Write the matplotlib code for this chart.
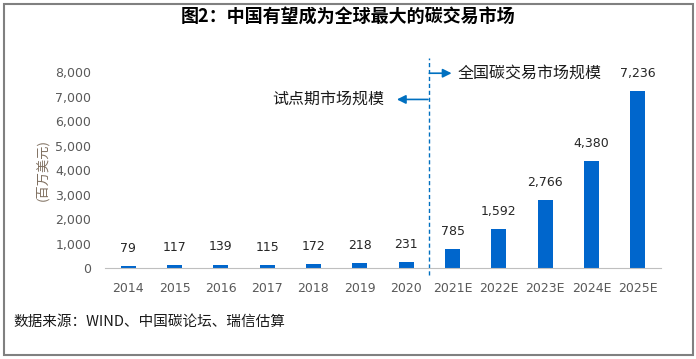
import matplotlib
matplotlib.use("Agg")
import matplotlib.pyplot as plt
from matplotlib.patches import Rectangle

plt.rcParams['font.family'] = ['Noto Sans CJK SC', 'DejaVu Sans']

# data
years = ['2014', '2015', '2016', '2017', '2018', '2019', '2020',
         '2021E', '2022E', '2023E', '2024E', '2025E']
market_size = [79, 117, 139, 115, 172, 218, 231, 785, 1592, 2766, 4380, 7236]
yticks = [0, 1000, 2000, 3000, 4000, 5000, 6000, 7000, 8000]

blue = '#0070C0'
grey = '#595959'

fig = plt.figure(figsize=(6.96, 3.59), dpi=100)
ax = fig.add_axes([105/696, 1 - 268/359, 556/696, 196/359])

x = range(len(years))
ax.bar(x, market_size, width=0.33, color='#0066CC', zorder=2)
for i, v in enumerate(market_size):
    ax.annotate(f'{v:,}', (i, v), xytext=(0, 8), textcoords='offset points',
                ha='center', va='bottom', fontsize=9, color='#262626',
                family=['DejaVu Sans'])

ax.set_xlim(-0.5, len(years) - 0.5)
ax.set_ylim(0, 8000)
ax.set_xticks(list(x))
ax.set_xticklabels(years, fontsize=9, color=grey, family=['DejaVu Sans'])
ax.set_yticks(yticks)
ax.set_yticklabels([f'{t:,}' for t in yticks], fontsize=9, color=grey,
                   family=['DejaVu Sans'])
ax.tick_params(axis='both', length=0)
ax.tick_params(axis='x', pad=10)
ax.tick_params(axis='y', pad=10)
for s in ['top', 'right', 'left']:
    ax.spines[s].set_visible(False)
ax.spines['bottom'].set_color('#BFBFBF')
ax.set_ylabel('(百万美元)', fontsize=9.5, color='#7F6F5F')
ax.yaxis.set_label_coords(-0.1, 0.5)

# divider between actual and estimated
ax.plot([6.5, 6.5], [-0.035, 1.07], transform=ax.get_xaxis_transform(),
        ls='--', lw=1, color=blue, clip_on=False, dashes=(3, 2))
ax.annotate('', xy=(5.8, 6880), xytext=(6.47, 6880),
            arrowprops=dict(arrowstyle='-|>', color=blue, lw=1.2, mutation_scale=13,
                            shrinkA=0, shrinkB=0))
ax.text(5.53, 6880, '试点期市场规模', ha='right', va='center', fontsize=11.5, color='#1a1a1a')
ax.annotate('', xy=(6.98, 7950), xytext=(6.5, 7950), annotation_clip=False,
            arrowprops=dict(arrowstyle='-|>', color=blue, lw=1.2, mutation_scale=13,
                            shrinkA=0, shrinkB=0))
ax.text(7.1, 7950, '全国碳交易市场规模', ha='left', va='center', fontsize=11.5, color='#1a1a1a')

fig.text(0.5, 1 - 17/359, '图2：中国有望成为全球最大的碳交易市场', ha='center', va='center',
         fontsize=13, fontweight='bold', color='black')
fig.text(13/696, 1 - 322/359, '数据来源：WIND、中国碳论坛、瑞信估算', ha='left', va='center',
         fontsize=10.5, color='#1a1a1a')

fig.patches.append(Rectangle((3.5/696, 1 - 354.5/359), 689/696, 351/359,
                             transform=fig.transFigure, fill=False,
                             edgecolor='#808080', lw=1.5))

fig.savefig('out.png', dpi=100)
